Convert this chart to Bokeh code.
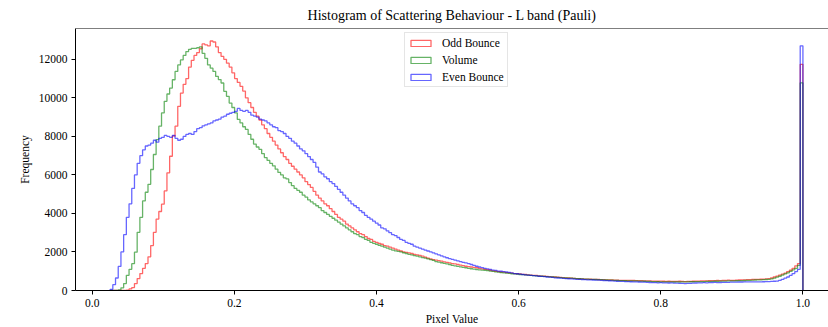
import numpy as np
from bokeh.plotting import figure
from bokeh.models import Range1d, Legend, LegendItem, Span, FixedTicker, PrintfTickFormatter
from bokeh.embed import file_html
from bokeh.resources import INLINE

# ---- data (256 bins between bin_start and bin_end) ----
bin_start = 0.0251
bin_end = 1.0
x_ticks = [0.0, 0.2, 0.4, 0.6, 0.8, 1.0]
y_ticks = [0, 2000, 4000, 6000, 8000, 10000, 12000]
series_names = ["Odd Bounce", "Volume", "Even Bounce"]
title_text = "Histogram of Scattering Behaviour - L band (Pauli)"

odd_bounce = [
    0, 0, 0, 0, 0, 0, 20, 80, 150, 360, 620, 880, 1150, 1400, 1750, 2330,
    3020, 3710, 4100, 4480, 5170, 6110, 6970, 8020, 8530, 9560, 10250, 10700, 11000, 11600, 11950, 12200,
    12350, 12550, 12800, 12750, 12700, 12950, 12900, 12650, 12350, 12150, 12000, 11800, 11600, 11300, 11000, 10800,
    10600, 10350, 10000, 9750, 9500, 9250, 9050, 8850, 8600, 8400, 8150, 7950, 7750, 7550, 7350, 7150,
    6950, 6800, 6600, 6450, 6300, 6150, 6000, 5850, 5650, 5500, 5350, 5150, 4950, 4800, 4650, 4500,
    4400, 4250, 4100, 3950, 3800, 3700, 3600, 3450, 3350, 3250, 3150, 3050, 2950, 2900, 2800, 2700,
    2650, 2550, 2500, 2450, 2400, 2330, 2300, 2250, 2200, 2150, 2100, 2050, 2000, 1980, 1950, 1920,
    1880, 1850, 1820, 1780, 1730, 1680, 1640, 1600, 1580, 1550, 1520, 1490, 1460, 1430, 1400, 1380,
    1350, 1320, 1290, 1260, 1240, 1220, 1200, 1180, 1150, 1120, 1100, 1080, 1050, 1020, 1000, 980,
    960, 950, 930, 910, 900, 880, 870, 860, 840, 830, 810, 800, 790, 780, 760, 750,
    740, 730, 720, 710, 700, 690, 680, 670, 660, 650, 640, 630, 620, 610, 600, 595,
    590, 585, 580, 575, 570, 565, 560, 555, 550, 545, 540, 535, 530, 530, 525, 520,
    530, 520, 515, 510, 505, 500, 500, 495, 490, 485, 480, 485, 480, 475, 480, 470,
    470, 475, 480, 470, 465, 470, 475, 480, 485, 490, 500, 495, 500, 505, 510, 515,
    520, 515, 525, 530, 535, 530, 530, 540, 545, 550, 555, 560, 565, 570, 575, 580,
    585, 590, 600, 620, 650, 700, 750, 800, 850, 900, 980, 1050, 1150, 1280, 1400, 11740,
]

volume = [
    0, 0, 0, 30, 140, 360, 790, 1100, 1390, 1990, 3020, 3800, 4650, 5100, 5510, 6280,
    7060, 7830, 8530, 9220, 9820, 10200, 10510, 10940, 11370, 11710, 11970, 12200, 12400, 12520, 12570, 12570,
    12600, 12650, 12310, 12050, 11710, 11540, 11370, 11110, 10950, 10770, 10340, 10080, 9730, 9500, 9220, 8880,
    8700, 8500, 8360, 8100, 7850, 7600, 7450, 7330, 7100, 6900, 6750, 6600, 6470, 6300, 6130, 6000,
    5850, 5790, 5600, 5440, 5300, 5200, 5100, 4950, 4850, 4700, 4600, 4500, 4400, 4300, 4150, 4050,
    3950, 3850, 3750, 3650, 3550, 3450, 3350, 3250, 3150, 3050, 2950, 2900, 2800, 2750, 2650, 2600,
    2500, 2450, 2400, 2350, 2300, 2250, 2200, 2150, 2100, 2060, 2030, 2000, 1960, 1920, 1880, 1850,
    1810, 1780, 1750, 1710, 1680, 1640, 1600, 1560, 1500, 1470, 1440, 1410, 1380, 1350, 1300, 1280,
    1250, 1230, 1200, 1180, 1150, 1130, 1110, 1090, 1070, 1060, 1050, 1030, 1010, 990, 970, 950,
    930, 920, 900, 890, 870, 860, 850, 830, 820, 810, 800, 780, 770, 760, 750, 740,
    730, 720, 710, 700, 690, 680, 670, 660, 650, 645, 640, 630, 620, 610, 600, 595,
    590, 580, 575, 570, 565, 560, 550, 545, 540, 535, 530, 520, 515, 510, 505, 500,
    500, 500, 495, 490, 485, 480, 475, 470, 465, 460, 455, 450, 450, 445, 450, 445,
    440, 445, 440, 445, 450, 450, 455, 455, 460, 460, 460, 465, 470, 470, 475, 480,
    480, 485, 490, 490, 495, 500, 500, 505, 510, 515, 520, 525, 530, 540, 545, 550,
    555, 560, 570, 580, 600, 640, 690, 740, 800, 860, 920, 990, 1070, 1150, 1300, 10780,
]

even_bounce = [
    60, 300, 650, 1250, 2000, 2900, 3800, 4500, 5300, 6000, 6600, 7000, 7300, 7500, 7550, 7650,
    7800, 7700, 7900, 7950, 8050, 8000, 7950, 8050, 7900, 7800, 7850, 8000, 8100, 8150, 8100, 8250,
    8400, 8450, 8550, 8600, 8650, 8700, 8800, 8850, 8900, 9000, 9050, 9150, 9200, 9250, 9300, 9450,
    9350, 9300, 9350, 9250, 9100, 9050, 9000, 8900, 8850, 8800, 8700, 8600, 8500, 8450, 8300, 8250,
    8150, 8000, 7900, 7750, 7650, 7500, 7350, 7250, 7100, 6950, 6800, 6650, 6400, 6150, 6050, 5900,
    5800, 5650, 5550, 5400, 5250, 5100, 4950, 4800, 4650, 4500, 4400, 4300, 4150, 4050, 3900, 3800,
    3700, 3600, 3500, 3400, 3250, 3200, 3100, 3000, 2900, 2850, 2750, 2650, 2600, 2500, 2450, 2400,
    2300, 2250, 2200, 2150, 2100, 2050, 2000, 1950, 1900, 1850, 1800, 1750, 1700, 1650, 1620, 1580,
    1540, 1500, 1460, 1430, 1400, 1350, 1300, 1260, 1220, 1190, 1150, 1120, 1090, 1060, 1040, 1010,
    1000, 980, 960, 940, 910, 880, 870, 850, 830, 810, 800, 780, 770, 760, 740, 730,
    720, 700, 690, 680, 660, 650, 640, 630, 620, 610, 600, 590, 580, 575, 570, 560,
    555, 550, 545, 540, 535, 530, 520, 510, 505, 500, 490, 480, 475, 470, 465, 460,
    455, 450, 445, 440, 430, 430, 420, 415, 410, 410, 400, 405, 395, 400, 390, 395,
    385, 380, 375, 370, 360, 370, 375, 380, 390, 395, 400, 405, 400, 410, 415, 420,
    410, 415, 420, 420, 425, 430, 430, 435, 440, 440, 445, 445, 445, 450, 450, 450,
    450, 455, 460, 465, 470, 480, 490, 530, 580, 640, 700, 790, 880, 980, 1100, 12700,
]

colors = ["red", "green", "blue"]

edges = np.linspace(bin_start, bin_end, len(odd_bounce) + 1)


def step_xy(counts):
    c = np.asarray(counts, dtype=float)
    xs = np.repeat(edges, 2)
    ys = np.concatenate([[0.0], np.repeat(c, 2), [0.0]])
    return xs, ys


FONT = "Liberation Serif"
X0, X1 = -0.0236, 1.036

p = figure(
    width=828, height=327,
    x_range=Range1d(X0, X1), y_range=Range1d(0, 13600),
    output_backend="svg", toolbar_location=None,
    min_border_left=75, min_border_right=0, min_border_top=0, min_border_bottom=35,
)
p.background_fill_color = "white"
p.border_fill_color = "white"
p.outline_line_color = None
p.grid.visible = False

p.title.text = title_text
p.title.text_font = FONT
p.title.text_font_size = "14px"
p.title.text_font_style = "normal"
p.title.align = "center"
p.title.text_color = "black"
p.title.standoff = 11

for ax in (p.xaxis[0], p.yaxis[0]):
    ax.axis_line_color = "black"
    ax.axis_line_width = 1
    ax.major_tick_line_color = "black"
    ax.major_tick_out = 4
    ax.major_tick_in = 0
    ax.minor_tick_line_color = None
    ax.major_label_text_font = FONT
    ax.major_label_text_font_size = "11.5px"
    ax.major_label_text_color = "black"
    ax.major_label_standoff = 4
    ax.axis_label_text_font = FONT
    ax.axis_label_text_font_size = "11.5px"
    ax.axis_label_text_font_style = "normal"
    ax.axis_label_text_color = "black"

p.xaxis[0].ticker = FixedTicker(ticks=x_ticks)
p.xaxis[0].formatter = PrintfTickFormatter(format="%.1f")
p.xaxis[0].axis_label = "Pixel Value"
p.xaxis[0].axis_label_standoff = 3
p.yaxis[0].ticker = FixedTicker(ticks=y_ticks)
p.yaxis[0].formatter = PrintfTickFormatter(format="%d")
p.yaxis[0].axis_label = "Frequency"
p.yaxis[0].axis_label_standoff = 5

p.add_layout(Span(location=13600, dimension="width", line_color="black", line_width=1))

items = []
for name, counts, col in zip(series_names, [odd_bounce, volume, even_bounce], colors):
    xs, ys = step_xy(counts)
    p.line(xs, ys, line_color=col, line_alpha=0.6, line_width=1.3)
    nan = [np.nan]
    dummy = p.quad(left=nan, right=nan, top=nan, bottom=nan, fill_alpha=0,
                   line_color=col, line_alpha=0.6, line_width=1.3)
    items.append(LegendItem(label=name, renderers=[dummy]))

legend = Legend(
    items=items, location=(329, 203),
    glyph_width=25, glyph_height=8, label_height=13, label_standoff=9,
    spacing=4, padding=3, margin=0,
    label_text_font=FONT, label_text_font_size="11.5px", label_text_color="black",
    border_line_color="#cccccc", border_line_width=1,
    background_fill_color="white", background_fill_alpha=0.8,
)
p.add_layout(legend, "center")

open("out.html", "w").write(file_html(p, INLINE))
